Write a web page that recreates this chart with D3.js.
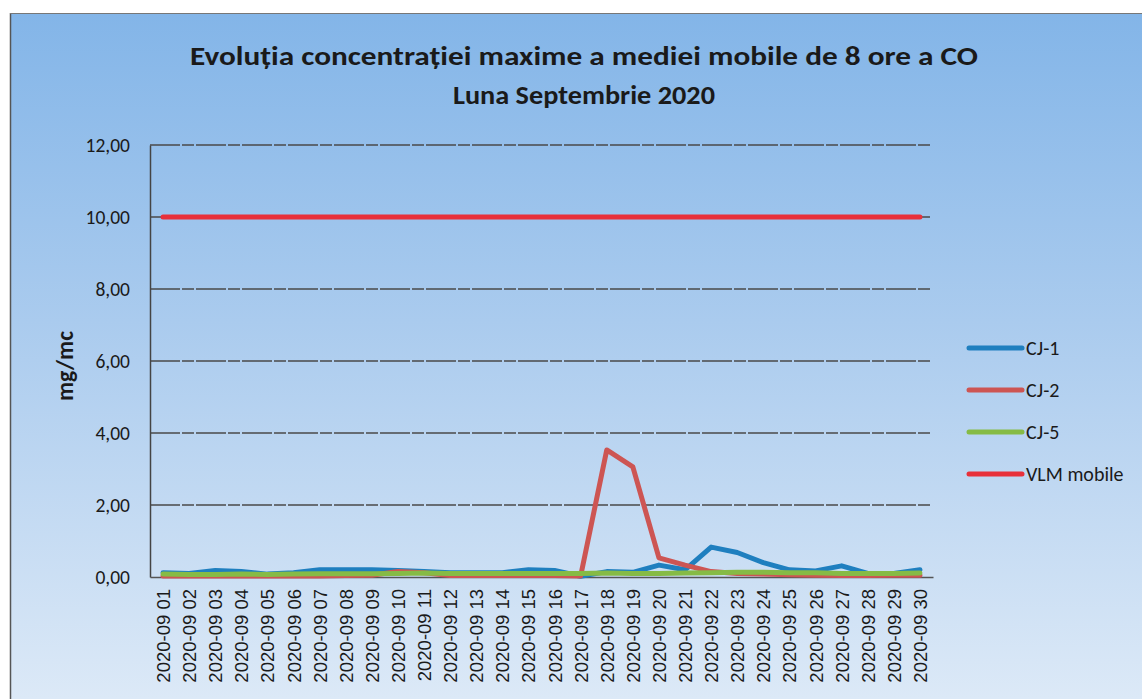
<!doctype html>
<html lang="ro">
<head>
<meta charset="utf-8">
<title>CO - medie mobila 8 ore</title>
<script src="https://cdnjs.cloudflare.com/ajax/libs/d3/7.8.5/d3.min.js"></script>
<style>
  body { margin: 0; background: #fff; overflow: hidden; }
  text { fill: #1a1a1a; }
</style>
</head>
<body>
<script>
  // data
  const days = ["2020-09 01","2020-09 02","2020-09 03","2020-09 04","2020-09 05","2020-09 06","2020-09 07","2020-09 08","2020-09 09","2020-09 10",
    "2020-09 11","2020-09 12","2020-09 13","2020-09 14","2020-09 15","2020-09 16","2020-09 17","2020-09 18","2020-09 19","2020-09 20",
    "2020-09 21","2020-09 22","2020-09 23","2020-09 24","2020-09 25","2020-09 26","2020-09 27","2020-09 28","2020-09 29","2020-09 30"];
  const cj1 = [0.12,0.10,0.18,0.15,0.08,0.12,0.20,0.20,0.20,0.18,0.15,0.12,0.12,0.12,0.20,0.18,0.02,0.15,0.13,0.33,0.20,0.83,0.68,0.40,0.20,0.17,0.31,0.10,0.10,0.20];
  const cj2 = [0.03,0.03,0.03,0.03,0.03,0.03,0.03,0.04,0.05,0.15,0.12,0.04,0.04,0.04,0.04,0.04,0.03,3.53,3.06,0.53,0.33,0.15,0.10,0.08,0.06,0.05,0.04,0.04,0.05,0.05];
  const cj5 = [0.08,0.07,0.07,0.08,0.07,0.08,0.09,0.09,0.09,0.10,0.11,0.10,0.10,0.10,0.10,0.10,0.10,0.11,0.10,0.10,0.11,0.12,0.13,0.13,0.12,0.12,0.10,0.10,0.10,0.11];
  const vlm = days.map(() => 10);
  const yTicks = [0, 2, 4, 6, 8, 10, 12];

  const series = [
    { name: "CJ-1", values: cj1, color: "#1f7fbf" },
    { name: "CJ-2", values: cj2, color: "#cd5553" },
    { name: "CJ-5", values: cj5, color: "#86bb45" },
    { name: "VLM mobile", values: vlm, color: "#e8303a" }
  ];

  const W = 1142, H = 699;
  const plot = { left: 150, right: 933, top: 145, bottom: 577 };
  const font = "Carlito, Calibri, 'Open Sans', sans-serif";

  const svg = d3.select("body").append("svg")
    .attr("width", W).attr("height", H)
    .attr("xmlns", "http://www.w3.org/2000/svg");

  const grad = svg.append("defs").append("linearGradient")
    .attr("id", "bg").attr("x1", 0).attr("y1", 0).attr("x2", 0).attr("y2", 1);
  grad.append("stop").attr("offset", "0%").attr("stop-color", "#83b5e8");
  grad.append("stop").attr("offset", "45%").attr("stop-color", "#aacbee");
  grad.append("stop").attr("offset", "100%").attr("stop-color", "#dce9f7");

  // chart frame (scanned page)
  svg.append("rect").attr("x", 10).attr("y", 13).attr("width", W - 10).attr("height", H - 13)
    .attr("fill", "url(#bg)");
  svg.append("line").attr("x1", 10.5).attr("x2", 10.5).attr("y1", 13).attr("y2", H)
    .attr("stroke", "#555").attr("stroke-width", 1.5);
  svg.append("line").attr("x1", 10).attr("x2", W).attr("y1", 13.5).attr("y2", 13.5)
    .attr("stroke", "#777").attr("stroke-width", 1);

  // title
  const title = svg.append("text").attr("text-anchor", "middle")
    .attr("font-family", font).attr("font-weight", "bold").attr("font-size", 27);
  title.append("tspan").attr("x", 584).attr("y", 65)
    .attr("textLength", 788).attr("lengthAdjust", "spacingAndGlyphs")
    .text("Evoluția concentrației maxime a mediei mobile de 8 ore a CO");
  title.append("tspan").attr("x", 584).attr("y", 104)
    .attr("textLength", 262).attr("lengthAdjust", "spacingAndGlyphs")
    .text("Luna Septembrie 2020");

  const x = d3.scalePoint().domain(days).range([plot.left, plot.right]).padding(0.5);
  const y = d3.scaleLinear().domain([0, 12]).range([plot.bottom, plot.top]);

  // gridlines
  svg.append("g").selectAll("line").data(yTicks.filter(d => d > 0)).join("line")
    .attr("x1", plot.left).attr("x2", plot.right - 3)
    .attr("y1", d => y(d)).attr("y2", d => y(d))
    .attr("stroke", "#4a4a4a").attr("stroke-width", 1.4).attr("stroke-dasharray", "30,2,12,2");

  // y axis
  const yAxis = svg.append("g").attr("transform", `translate(${plot.left},0)`)
    .call(d3.axisLeft(y).tickValues(yTicks).tickSize(0).tickPadding(20)
      .tickFormat(d => d3.format(".2f")(d).replace(".", ",")));
  yAxis.select(".domain").attr("stroke", "#444").attr("stroke-width", 1.5);
  yAxis.selectAll("text").attr("font-family", font).attr("font-size", 19.5).attr("fill", "#1a1a1a");

  // x axis
  const xAxis = svg.append("g").attr("transform", `translate(0,${plot.bottom})`)
    .call(d3.axisBottom(x).tickSize(0).tickPadding(0));
  xAxis.select(".domain").attr("stroke", "#555").attr("stroke-width", 1.5);
  xAxis.selectAll("text")
    .attr("font-family", "'Liberation Sans', Arial, sans-serif").attr("font-size", 18.5).attr("fill", "#1a1a1a")
    .attr("text-anchor", "end").attr("dy", "0.35em")
    .attr("transform", "translate(0,12) rotate(-90)").attr("x", 0).attr("y", 0);

  // axis title
  svg.append("text").attr("transform", `translate(73,366) rotate(-90)`)
    .attr("text-anchor", "middle").attr("font-family", font)
    .attr("font-weight", "bold").attr("font-size", 23.5).text("mg/mc");

  // lines
  const line = d3.line().x((d, i) => x(days[i])).y(d => y(d));
  svg.append("g").selectAll("path").data(series).join("path")
    .attr("d", d => line(d.values))
    .attr("fill", "none").attr("stroke", d => d.color)
    .attr("stroke-width", 5)
    .attr("stroke-linejoin", "round").attr("stroke-linecap", "round");

  // legend
  const leg = svg.append("g").selectAll("g").data(series).join("g")
    .attr("transform", (d, i) => `translate(969,${348 + i * 42})`);
  leg.append("line").attr("x1", 0).attr("x2", 53).attr("y1", 0).attr("y2", 0)
    .attr("stroke", d => d.color).attr("stroke-width", 5).attr("stroke-linecap", "round");
  leg.append("text").attr("x", 57).attr("dy", "0.35em")
    .attr("font-family", font).attr("font-size", 20).text(d => d.name);
</script>
</body>
</html>
